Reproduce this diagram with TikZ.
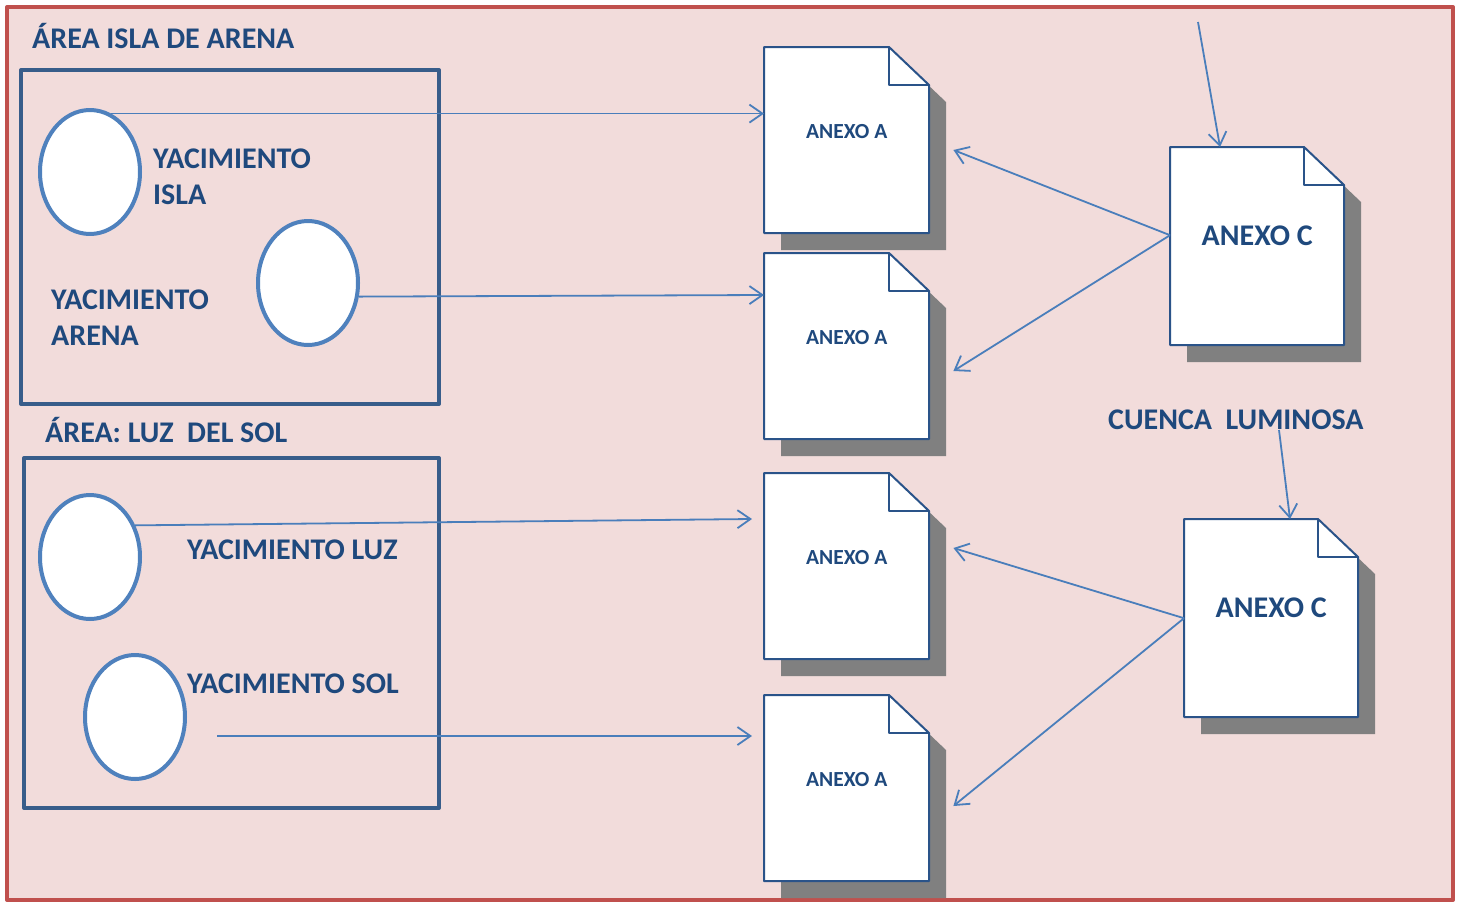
\documentclass[tikz,border=0pt]{standalone}
\usepackage{fontspec}
\setmainfont{Carlito}
\usetikzlibrary{shapes.geometric,arrows.meta,calc}
\definecolor{fondo}{HTML}{F2DCDB}
\definecolor{rojo}{HTML}{C0504D}
\definecolor{txtazul}{HTML}{1F497D}
\definecolor{cajazul}{HTML}{385D8A}
\definecolor{elipazul}{HTML}{4F81BD}
\definecolor{flechazul}{HTML}{4A7EBB}
\definecolor{docazul}{HTML}{2A5389}
\definecolor{sombra}{HTML}{808080}
\begin{document}
\begin{tikzpicture}[x=1pt,y=-1pt,line join=round,>={Straight Barb[length=13pt,width=18pt]},
  marco/.style={draw=rojo,line width=4pt,fill=fondo},
  area/.style={draw=cajazul,line width=4pt},
  yac/.style={ellipse,draw=elipazul,line width=4pt,fill=white,minimum width=100,minimum height=124,inner sep=0},
  rotulo/.style={text=txtazul,font=\bfseries\fontsize{30}{36}\selectfont,inner sep=0},
  docline/.style={draw=docazul,line width=2pt,fill=white},
  docbox/.style={draw=none,inner sep=0,anchor=north west},
  conn/.style={->,draw=flechazul,line width=1.8pt}]
\def \fx{40};
\def \fy{38};
\useasboundingbox (0,0) rectangle (1458,902);
\draw[marco] (7,7) rectangle (1453,900);
% areas
\draw[area] (21,70) rectangle (439,404);
\draw[area] (24,458) rectangle (439,808);
\node[rotulo,anchor=base west] (area1) at (32,48) {ÁREA ISLA DE ARENA};
\node[rotulo,anchor=base west] (area2) at (45,442) {ÁREA: LUZ\ \ DEL SOL};
% yacimientos
\node[yac] (y1) at (90,172) {};
\node[yac] (y2) at (308,283) {};
\node[yac] (y3) at (90,557) {};
\node[yac] (y4) at (135,717) {};
\node[rotulo,anchor=north west,align=left] (tisla) at (153,149) {YACIMIENTO\\ISLA};
\node[rotulo,anchor=north west,align=left] (tarena) at (51,290) {YACIMIENTO\\ARENA};
\node[rotulo,anchor=base west] (tluz) at (187,559) {YACIMIENTO LUZ};
\node[rotulo,anchor=base west] (tsol) at (187,693) {YACIMIENTO SOL};
\node[rotulo,anchor=base west] (cuenca) at (1108,429) {CUENCA\ \ LUMINOSA};
% anexos
\foreach \n/\x/\y/\w/\h/\t/\s/\d in {a1/764/47/165/186/{ANEXO A}/21.5/9,a2/764/253/165/186/{ANEXO A}/21.5/9,
  a3/764/473/165/186/{ANEXO A}/21.5/9,a4/764/695/165/186/{ANEXO A}/21.5/9,
  c1/1170/147/174/198/{ANEXO C}/30/10,c2/1184/519/174/198/{ANEXO C}/30/10}{
  \fill[sombra] ({\x+17},{\y+17}) -- ++({\w-\fx},0) -- ++(\fx,\fy) -- ++(0,{\h-\fy}) -- ++({-\w},0) -- cycle;
  \filldraw[docline] (\x,\y) -- ++({\w-\fx},0) -- ++(\fx,\fy) -- ++(0,{\h-\fy}) -- ++({-\w},0) -- cycle;
  \draw[docline,fill=none] ({\x+\w-\fx},\y) -- ++(0,\fy) -- ++(\fx,0);
  \node[docbox,minimum width=\w,minimum height=\h,
    label={[text=txtazul,font=\bfseries\fontsize{\s}{\s}\selectfont,yshift=\d pt]center:\t}] (\n) at (\x,\y) {};
}
% conectores
\coordinate (s4) at (217,736);
\coordinate (t1) at (1198,22);
\coordinate (t2) at (1279,430);
\draw[conn] (y1.70) -- (y1.70 -| a1.west);
\draw[conn] (y2.-15) -- ($(a2.north west)+(0,42)$);
\draw[conn] (y3.35) -- ($(a3.north west)+(-12,46)$);
\draw[conn] (s4) -- ($(s4 -| a4.west)+(-12,0)$);
\draw[conn] ($(c1.west)+(0,-11)$) -- ($(a1.north east)+(24,103)$);
\draw[conn] ($(c1.west)+(0,-11)$) -- ($(a2.north east)+(24,118)$);
\draw[conn] (c2.west) -- ($(a3.north east)+(24,75)$);
\draw[conn] (c2.west) -- ($(a4.north east)+(24,111)$);
\draw[conn] (t1) -- ($(c1.north west)+(50,0)$);
\draw[conn] (t2) -- ($(c2.north west)+(106,0)$);
\end{tikzpicture}
\end{document}
